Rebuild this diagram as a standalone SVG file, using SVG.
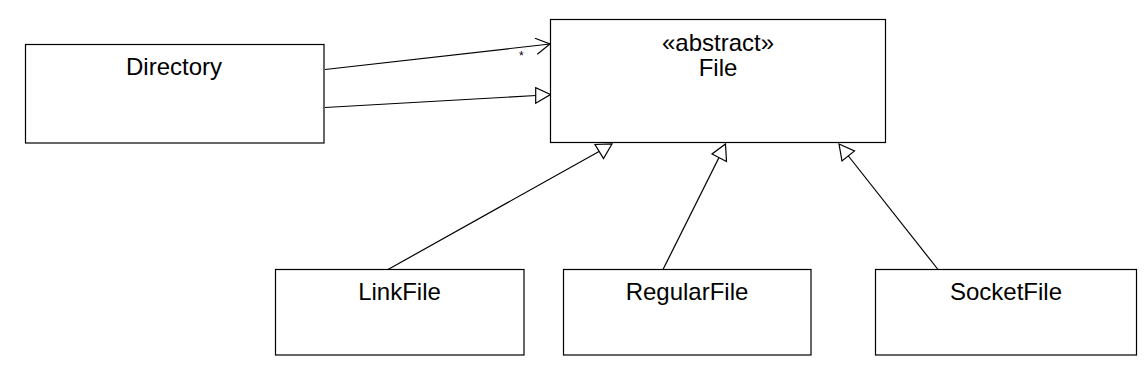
<svg xmlns="http://www.w3.org/2000/svg" width="1146" height="367" viewBox="0 0 1146 367">
<style>
.box{fill:#fff;stroke:#000;stroke-width:1.2}
.lbl{font-family:"Liberation Sans",Arial,sans-serif;font-size:24px;fill:#000;text-anchor:middle}
.edge{fill:none;stroke:#000;stroke-width:1.2}
.head{fill:#fff;stroke:#000;stroke-width:1.2;stroke-linejoin:miter}
.mult{font-family:"Liberation Sans",Arial,sans-serif;font-size:12px;fill:#000}
</style>
<rect width="1146" height="367" fill="#fff"/>
<g id="connectors">
  <g id="dir-file-assoc">
    <line class="edge" x1="325" y1="69.5" x2="550" y2="44"/>
    <polyline class="edge" points="535,38.3 550,44 537.3,54.3"/>
    <text class="mult" x="519" y="60">*</text>
  </g>
  <g id="dir-file-gen">
    <line class="edge" x1="325" y1="107.5" x2="536" y2="95.5"/>
    <polygon class="head" points="550.5,94.5 535.7,87.7 535.7,103.3"/>
  </g>
  <g id="link-file-gen">
    <line class="edge" x1="388" y1="269.5" x2="599" y2="151.5"/>
    <polygon class="head" points="612,144 603.5,158.5 595,144.5"/>
  </g>
  <g id="regular-file-gen">
    <line class="edge" x1="663" y1="269.5" x2="719" y2="157.5"/>
    <polygon class="head" points="725.5,144 726.5,161.5 712,154"/>
  </g>
  <g id="socket-file-gen">
    <line class="edge" x1="938" y1="269.5" x2="848" y2="155.5"/>
    <polygon class="head" points="839,144 854.5,151 842,161"/>
  </g>
</g>
<g id="Directory">
  <rect class="box" x="25.5" y="44.5" width="298.5" height="98.5"/>
  <text class="lbl" x="174" y="74.5">Directory</text>
</g>
<g id="File">
  <rect class="box" x="550.5" y="19.5" width="335" height="123"/>
  <text class="lbl" x="718" y="51">«abstract»</text>
  <text class="lbl" x="718" y="76">File</text>
</g>
<g id="LinkFile">
  <rect class="box" x="275.5" y="269.5" width="248.5" height="85.5"/>
  <text class="lbl" x="399.5" y="299.5">LinkFile</text>
</g>
<g id="RegularFile">
  <rect class="box" x="563.5" y="269.5" width="247.5" height="85.5"/>
  <text class="lbl" x="687" y="299.5">RegularFile</text>
</g>
<g id="SocketFile">
  <rect class="box" x="875.5" y="269.5" width="261" height="85.5"/>
  <text class="lbl" x="1006" y="299.5">SocketFile</text>
</g>
</svg>
